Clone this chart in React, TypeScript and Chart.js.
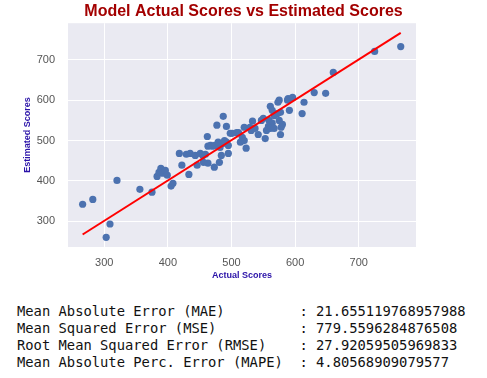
import React, { useEffect, useRef } from "react";
import { Chart, registerables } from "chart.js";

Chart.register(...registerables);

const actualScores = [
  266, 282, 320, 303, 309, 356, 375, 383, 386, 389, 392, 396, 399, 405, 408,
  418, 422, 429, 435, 443, 451, 455, 459, 433, 446, 463, 470, 463, 473, 481,
  484, 495, 482, 487, 492, 487, 477, 492, 462, 501, 508, 511, 520, 529, 517,
  520, 523, 514, 467, 474, 479, 489, 495, 533, 537, 531, 542, 547, 550, 555,
  553, 559, 564, 558, 561, 567, 577, 575, 580, 578, 561, 564, 577, 572, 567,
  591, 575, 573, 588, 589, 596, 611, 614, 630, 648, 660, 725, 766, 498, 456,
];
const estimatedScores = [
  342, 354, 401, 260, 293, 379, 372, 411, 421, 431, 419, 426, 414, 387, 394,
  468, 439, 466, 468, 463, 468, 463, 466, 416, 439, 486, 486, 444, 434, 446,
  463, 468, 483, 493, 496, 560, 538, 535, 510, 518, 520, 520, 533, 533, 508,
  500, 481, 496, 488, 488, 496, 500, 488, 548, 530, 525, 515, 550, 555, 525,
  505, 550, 543, 535, 530, 530, 515, 550, 540, 533, 585, 575, 570, 567, 562,
  575, 600, 595, 600, 604, 607, 567, 595, 619, 617, 669, 721, 733, 518, 446,
];
const fitLineX = [266, 766];
const fitLineY = [267, 767];
const tickValues = [300, 400, 500, 600, 700];

const chartTitle = "Model Actual Scores vs Estimated Scores";
const xLabel = "Actual Scores";
const yLabel = "Estimated Scores";
const metricLines = [
  "Mean Absolute Error (MAE)         : 21.655119768957988",
  "Mean Squared Error (MSE)          : 779.5596284876508",
  "Root Mean Squared Error (RMSE)    : 27.92059505969833",
  "Mean Absolute Perc. Error (MAPE)  : 4.80568909079577",
];

const bgPlugin = {
  id: "plotBg",
  beforeDraw(chart: any) {
    const { ctx, chartArea } = chart;
    if (!chartArea) return;
    ctx.save();
    ctx.fillStyle = "#EAEAF2";
    ctx.fillRect(chartArea.left, chartArea.top, chartArea.right - chartArea.left, chartArea.bottom - chartArea.top);
    ctx.restore();
  },
};

export default function App() {
  const ref = useRef<HTMLCanvasElement>(null);
  useEffect(() => {
    if (!ref.current) return;
    const chart = new Chart(ref.current, {
      type: "scatter",
      data: {
        datasets: [
          {
            type: "line",
            data: fitLineX.map((x, i) => ({ x, y: fitLineY[i] })),
            borderColor: "#ff0000",
            borderWidth: 2,
            pointRadius: 0,
            showLine: true,
            fill: false,
          } as any,
          {
            data: actualScores.map((x, i) => ({ x, y: estimatedScores[i] })),
            backgroundColor: "#4C72B0",
            borderWidth: 0,
            pointRadius: 3.6,
          },
        ],
      },
      options: {
        responsive: false,
        animation: false,
        layout: { padding: 0 },
        plugins: {
          legend: { display: false },
          tooltip: { enabled: false },
          title: {
            display: true,
            text: chartTitle,
            color: "#a30000",
            font: { family: "Liberation Sans, Arial", size: 16, weight: "bold", lineHeight: 1.2 },
            padding: { top: 2, bottom: 2 },
          },
        },
        scales: {
          x: {
            type: "linear",
            min: 243,
            max: 790,
            afterFit: (s: any) => { s.height = 38; },
            afterBuildTicks: (s: any) => { s.ticks = tickValues.map((v) => ({ value: v })); },
            grid: { color: "#ffffff", lineWidth: 1, drawTicks: false },
            border: { display: false },
            ticks: { color: "#555555", font: { family: "Liberation Sans, Arial", size: 11 }, padding: 9 },
            title: {
              display: true,
              text: xLabel,
              color: "#2a12a8",
              font: { family: "Liberation Sans, Arial", size: 9, weight: "bold" },
              padding: { top: 0, bottom: 4 },
            },
          },
          y: {
            type: "linear",
            min: 236,
            max: 791,
            afterFit: (s: any) => { s.width = 68; },
            afterBuildTicks: (s: any) => { s.ticks = tickValues.map((v) => ({ value: v })); },
            grid: { color: "#ffffff", lineWidth: 1, drawTicks: false },
            border: { display: false },
            ticks: { color: "#555555", font: { family: "Liberation Sans, Arial", size: 11 }, padding: 13 },
            title: {
              display: true,
              text: yLabel,
              color: "#2a12a8",
              font: { family: "Liberation Sans, Arial", size: 9, weight: "bold" },
              padding: { top: 22, bottom: 0 },
            },
          },
          yRight: {
            type: "linear",
            position: "right",
            min: 236,
            max: 791,
            afterFit: (s: any) => { s.width = 71; },
            grid: { display: false, drawTicks: false },
            border: { display: false },
            ticks: { display: false },
          },
        },
      },
      plugins: [bgPlugin],
    });
    return () => chart.destroy();
  }, []);

  return (
    <div style={{ position: "fixed", left: 0, top: 0, width: 487, height: 378, background: "#ffffff" }}>
      <canvas ref={ref} width={487} height={285} style={{ position: "absolute", left: 0, top: 0 }} />
      <pre
        style={{
          position: "absolute",
          left: 17,
          top: 303,
          margin: 0,
          fontFamily: "DejaVu Sans Mono, monospace",
          fontSize: 13.8,
          lineHeight: "17px",
          color: "#111111",
        }}
      >
        {metricLines.join("\n")}
      </pre>
    </div>
  );
}
